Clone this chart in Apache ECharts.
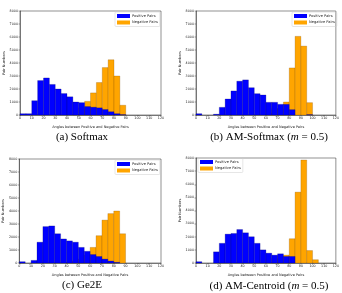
<!DOCTYPE html>
<html>
<head>
<meta charset="utf-8">
<script src="https://cdn.jsdelivr.net/npm/echarts@6/dist/echarts.min.js"></script>
<style>
  html, body { margin: 0; padding: 0; background: #fff; }
  #myChart { width: 342px; height: 293px; }
</style>
</head>
<body>
<div id="myChart"></div>
<script>
// bin starts, each bin is 5 degrees wide
const binStarts = [0,5,10,15,20,25,30,35,40,45,50,55,60,65,70,75,80,85,90,95,100,105,110,115];
const binWidth = 5;
const xTicks = [0,10,20,30,40,50,60,70,80,90,100,110,120];
const yTicks = [0,1000,2000,3000,4000,5000,6000,7000,8000];

// (a) Softmax
const softmaxPos = [100,100,1100,2650,2850,2350,2000,1650,1400,1000,950,650,600,550,420,250,100,30,0,0,0,0,0,0];
const softmaxNeg = [0,0,0,0,0,0,0,0,0,50,550,1050,1700,2500,3650,4250,3000,750,0,0,0,0,0,0];
// (b) AM-Softmax
const amSoftmaxPos = [100,0,0,60,590,1230,1850,2600,2700,2100,1640,1540,975,975,820,820,410,0,0,30,0,0,0,0];
const amSoftmaxNeg = [0,0,0,0,0,0,0,0,0,0,0,0,130,490,490,1000,3620,6050,5300,950,0,0,0,0];
// (c) Ge2E
const ge2ePos = [100,0,200,1600,2800,2850,2250,1850,1700,1600,1200,900,650,500,300,150,50,0,0,0,0,0,0,0];
const ge2eNeg = [0,0,0,0,0,0,0,0,50,150,300,600,1200,2100,3300,3800,4000,2250,0,0,0,0,0,0];
// (d) AM-Centroid
const amCentroidPos = [100,0,0,850,1500,2200,2250,2550,2300,2000,1500,1000,750,600,700,500,500,0,0,0,0,0,0,0];
const amCentroidNeg = [0,0,0,0,0,0,0,0,0,0,0,0,0,350,550,600,1850,5400,7850,950,250,0,0,0];

const captions = ['(a) Softmax', '(b) AM-Softmax', '(c) Ge2E', '(d) AM-Centroid'];

const posColor = '#0000ff';
const negColor = '#ffa500';

let myChart = echarts.init(document.getElementById('myChart'));

const grids = [
  { left: 20, top: 11, width: 141, height: 104 },
  { left: 196, top: 11, width: 141, height: 104 },
  { left: 19, top: 159, width: 142, height: 104 },
  { left: 196, top: 158, width: 141, height: 105 }
];
const panels = [
  [softmaxPos, softmaxNeg],
  [amSoftmaxPos, amSoftmaxNeg],
  [ge2ePos, ge2eNeg],
  [amCentroidPos, amCentroidNeg]
];

function makeRender(fill, edge) {
  return function (params, api) {
    const x0 = api.value(0), n = api.value(1);
    if (!n) return;
    const p0 = api.coord([x0, n]);
    const p1 = api.coord([x0 + binWidth, 0]);
    return {
      type: 'rect',
      shape: { x: p0[0], y: p0[1], width: p1[0] - p0[0], height: p1[1] - p0[1] },
      style: { fill: fill, stroke: edge, lineWidth: 0.4 }
    };
  };
}

const tickFont = { fontSize: 3.3, color: '#222', fontFamily: 'DejaVu Sans', formatter: v => String(v) };

const xAxes = grids.map((g, i) => ({
  type: 'value', gridIndex: i, min: 0, max: 120, interval: 10,
  name: 'Angles between Positive and Negative Pairs',
  nameLocation: 'middle', nameGap: 10,
  nameTextStyle: { fontSize: 3.5, color: '#222', fontFamily: 'DejaVu Sans' },
  axisLine: { show: true, lineStyle: { color: '#222', width: 0.5 } },
  axisTick: { show: true, length: 1.5, lineStyle: { color: '#222', width: 0.4 } },
  axisLabel: Object.assign({ margin: 2 }, tickFont),
  splitLine: { show: false }
}));
const yAxes = grids.map((g, i) => ({
  type: 'value', gridIndex: i, min: 0, max: 8000, interval: 1000,
  name: 'Pair Numbers',
  nameLocation: 'middle', nameGap: 14,
  nameTextStyle: { fontSize: 3.5, color: '#222', fontFamily: 'DejaVu Sans' },
  axisLine: { show: true, lineStyle: { color: '#222', width: 0.5 } },
  axisTick: { show: true, length: 1.5, lineStyle: { color: '#222', width: 0.4 } },
  axisLabel: Object.assign({ margin: 2 }, tickFont),
  splitLine: { show: false }
}));

const series = [];
panels.forEach((p, i) => {
  series.push({
    type: 'custom', name: 'Negative Pairs', xAxisIndex: i, yAxisIndex: i,
    itemStyle: { color: negColor },
    renderItem: makeRender(negColor, 'rgba(120,70,0,0.6)'),
    encode: { x: 0, y: 1 },
    data: binStarts.map((b, k) => [b, p[1][k]])
  });
  series.push({
    type: 'custom', name: 'Positive Pairs', xAxisIndex: i, yAxisIndex: i,
    itemStyle: { color: posColor },
    renderItem: makeRender(posColor, 'rgba(0,0,90,0.6)'),
    encode: { x: 0, y: 1 },
    data: binStarts.map((b, k) => [b, p[0][k]])
  });
});

const legendPos = [
  { left: 115, top: 12 },
  { left: 292, top: 12 },
  { left: 115, top: 160 },
  { left: 198, top: 158 }
];
const legends = legendPos.map(lp => ({
  left: lp.left, top: lp.top, orient: 'vertical',
  data: ['Positive Pairs', 'Negative Pairs'],
  icon: 'rect', itemWidth: 13, itemHeight: 4, itemGap: 2.5,
  padding: [2, 2], borderColor: '#ccc', borderWidth: 0.5, borderRadius: 1,
  selectedMode: false,
  textStyle: { fontSize: 3.6, color: '#222', fontFamily: 'DejaVu Sans', padding: [0, 0, 0, -3] }
}));

const capFont = 'Liberation Serif';
const capRich = {
  n: { fontSize: 11, fontFamily: capFont, color: '#111' },
  i: { fontSize: 11, fontFamily: capFont, fontStyle: 'italic', color: '#111' }
};
const capPos = [[82, 137], [269, 137], [82, 285], [269, 286]];
const capTexts = [
  '{n|' + captions[0] + '}',
  '{n|' + captions[1] + ' (}{i|m}{n| = 0.5)}',
  '{n|' + captions[2] + '}',
  '{n|' + captions[3] + ' (}{i|m}{n| = 0.5)}'
];

myChart.setOption({
  animation: false,
  backgroundColor: '#fff',
  grid: grids.map(g => Object.assign({ show: true, borderColor: '#222', borderWidth: 0.5, backgroundColor: 'transparent' }, g)),
  xAxis: xAxes,
  yAxis: yAxes,
  legend: legends,
  series: series,
  graphic: capTexts.map((t, i) => ({
    type: 'text', x: capPos[i][0], y: capPos[i][1],
    style: { text: t, rich: capRich, align: 'center', verticalAlign: 'middle' }
  }))
});
</script>
</body>
</html>
